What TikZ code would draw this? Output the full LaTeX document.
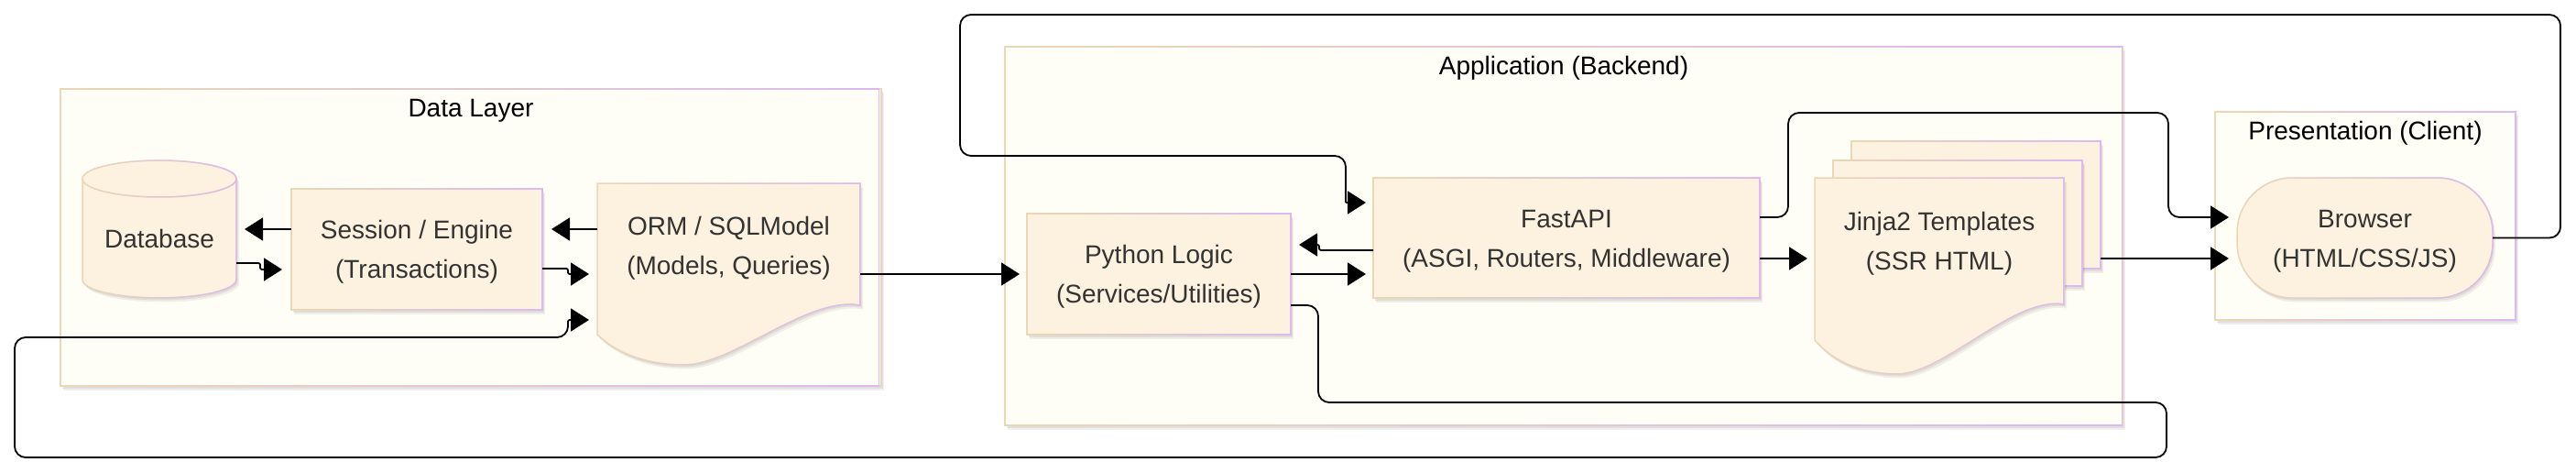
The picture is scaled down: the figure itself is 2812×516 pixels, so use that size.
\documentclass[tikz,border=0pt]{standalone}
\usepackage{fontspec}
\setmainfont{Liberation Sans}
\usetikzlibrary{arrows.meta,calc,fadings}
\definecolor{contfill}{HTML}{FEFDF6}
\definecolor{boxfill}{HTML}{FDF2DF}
\definecolor{tanc}{HTML}{EBD8B4}
\definecolor{lavc}{HTML}{DDB9F0}
\definecolor{txt}{HTML}{333333}
\newcommand\lblfont{\fontsize{28}{43}\selectfont}
\newcommand\tstrut{\rule{0pt}{26pt}}
\tikzfading[name=gradfade, left color=transparent!100, right color=transparent!0]
\tikzset{
  shadowed/.style={
    preaction={fill=black,opacity=0.07,transform canvas={shift={(1.5pt,-2.5pt)}}},
    preaction={fill=black,opacity=0.06,transform canvas={shift={(3pt,-4.5pt)}}}},
  gstroke/.style={draw=tanc, line width=1.5pt,
    postaction={draw=lavc, line width=1.5pt, path fading=gradfade}},
  cont/.style={shadowed, fill=contfill, gstroke, inner sep=0pt, outer sep=0pt},
  boxn/.style={shadowed, fill=boxfill, gstroke, inner sep=0pt, outer sep=0pt,
    text=txt, font=\lblfont, align=center},
  anchorbox/.style={draw=none, fill=none, inner sep=0pt, outer sep=0pt},
  lbl/.style={inner sep=0pt, text=txt, font=\lblfont, align=center},
  ttl/.style={inner sep=0pt, text=black, font=\lblfont, anchor=base},
  arr/.style={line width=1.8pt, draw=black, rounded corners=12pt,
    -{Triangle[length=20pt,width=25pt]}},
}
\begin{document}
\begin{tikzpicture}[x=1pt,y=-1pt]
\useasboundingbox (0,0) rectangle (2812,516);
\fill[white] (0,0) rectangle (2812,516);

% containers
\node[cont, minimum width=896pt, minimum height=324pt] (datalayer) at (514,259) {};
\node[cont, minimum width=1220pt, minimum height=413pt] (app) at (1707,257.5) {};
\node[cont, minimum width=328pt, minimum height=227pt] (pres) at (2582,235.5) {};

\node[ttl] (datatitle) at (514,128) {Data Layer};
\node[ttl] (apptitle) at (1707,82) {Application (Backend)};
\node[ttl] (prestitle) at (2582,153) {Presentation (Client)};

% database cylinder
\node[anchorbox, minimum width=168pt, minimum height=150pt] (db) at (174,250) {};
\path[shadowed, fill=boxfill, gstroke] (90,195) -- (90,305)
  arc[start angle=180, end angle=360, x radius=84pt, y radius=20pt]
  -- (258,195)
  arc[start angle=0, end angle=180, x radius=84pt, y radius=20pt] -- cycle;
\draw[gstroke] (90,195) arc[start angle=180, end angle=360, x radius=84pt, y radius=20pt];
\node[lbl, anchor=base] (dbtext) at (174,270) {Database};

% session
\node[boxn, minimum width=274pt, minimum height=132pt] (session) at (455,272)
  {\tstrut Session / Engine\\(Transactions)};

% ORM document
\node[anchorbox, minimum width=287pt, minimum height=198pt] (orm) at (795.5,299) {};
\path[shadowed, fill=boxfill, gstroke] (652,200) -- (939,200) -- (939,333)
  .. controls (881.6,322.8) and (801.2,398) .. (746.7,398)
  .. controls (703.7,398) and (672.1,384.1) .. (652,365) -- cycle;
\node[lbl] (ormtext) at (795.5,267.5) {\tstrut ORM / SQLModel\\(Models, Queries)};

% python logic
\node[boxn, minimum width=288pt, minimum height=132pt] (python) at (1265,299)
  {\tstrut Python Logic\\(Services/Utilities)};

% fastapi
\node[boxn, minimum width=422pt, minimum height=131pt] (fastapi) at (1710,259.5)
  {\tstrut FastAPI\\(ASGI, Routers, Middleware)};

% jinja stack
\node[boxn, minimum width=272pt, minimum height=139pt] (jinjaback) at (2157,223.5) {};
\node[boxn, minimum width=272pt, minimum height=137pt] (jinjamid) at (2137,243.5) {};
\node[anchorbox, minimum width=272pt, minimum height=214pt] (jinja) at (2117,301) {};
\path[shadowed, fill=boxfill, gstroke] (1981,194) -- (2253,194) -- (2253,332)
  .. controls (2198.6,323) and (2122.4,408) .. (2070.8,408)
  .. controls (2030,408) and (2000,393) .. (1981,371) -- cycle;
\node[lbl] (jinjatext) at (2117,262.5) {\tstrut Jinja2 Templates\\(SSR HTML)};

% browser
\node[boxn, rounded corners=60pt, minimum width=279pt, minimum height=131pt] (browser) at (2581.5,259.5)
  {\tstrut Browser\\(HTML/CSS/JS)};

% connectors
\draw[arr, shorten >=9pt] ($(session.west)+(0,-22)$) -- (db.east);
\draw[arr, rounded corners=2pt, shorten >=10pt] ($(db.east)+(0,37)$) -- ++(26,0) -- ++(0,7) -- ($(session.west)+(0,22)$);
\draw[arr, shorten >=10pt] ($(orm.west)+(0,-49)$) -- ($(session.east)+(0,-22)$);
\draw[arr, rounded corners=2pt, shorten >=9pt] ($(session.east)+(0,21)$) -- ++(28,0) -- ++(0,6) -- (orm.west);
\draw[arr, shorten >=9pt] ($(python.east)+(0,34)$) -- (1439,333) -- (1439,439) -- (2365,439)
  -- (2365,499) -- (16,499) -- (16,368) -- (620,368) [rounded corners=2pt] -- (620,349) -- ($(orm.west)+(0,50)$);
\draw[arr, shorten >=8pt] (orm.east) -- (python.west);
\draw[arr, shorten >=8pt] (python.east) -- ($(fastapi.west)+(0,39.5)$);
\draw[arr, rounded corners=2pt, shorten >=9pt] ($(fastapi.west)+(0,13.5)$) -- (1440,273) -- (1440,267) -- ($(python.east)+(0,-32)$);
\draw[arr, shorten >=8pt] (browser.east) -- (2795,259.5) -- (2795,16) -- (1048,16)
  -- (1048,170) -- (1469,170) [rounded corners=1pt] -- (1469,221) -- ($(fastapi.west)+(0,-38.5)$);
\draw[arr, shorten >=8pt] ($(fastapi.east)+(0,22.5)$) -- ($(jinja.west)+(0,-19)$);
\draw[arr, shorten >=9pt] ($(fastapi.east)+(0,-22.5)$) -- (1952,237) -- (1952,123) -- (2367,123)
  -- (2367,237) -- ($(browser.west)+(0,-22.5)$);
\draw[arr, shorten >=9pt] ($(jinjaback.east)+(0,58.5)$) -- ($(browser.west)+(0,22.5)$);
\end{tikzpicture}
\end{document}
